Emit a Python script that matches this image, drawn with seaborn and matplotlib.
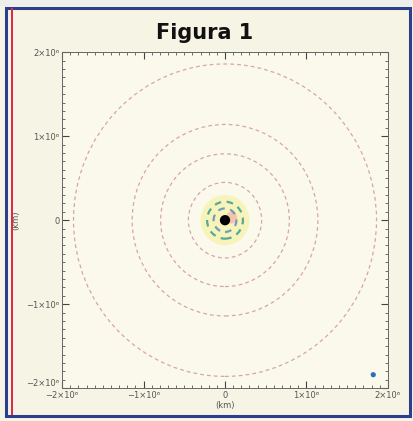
import numpy as np
import pandas as pd
import matplotlib
matplotlib.use("Agg")
import matplotlib.pyplot as plt
import seaborn as sns
from matplotlib.patches import Circle, Rectangle
from matplotlib.ticker import MultipleLocator

# orbit radii (units of 10^6 km)
outer_orbits = [1.86, 1.14, 0.79, 0.45]
inner_orbits = [0.22, 0.14]
inner_colors = ["#3f9a92", "#5b8fb8"]

# point markers: centre body and the lone blue dot
points = pd.DataFrame({
    "x": [0.0, 1.82],
    "y": [0.0, -1.84],
    "kind": ["centre", "dot"],
})

ticks = [-2, -1, 0, 1, 2]
tick_labels = ["\u22122\u00d710\u2076", "\u22121\u00d710\u2076", "0", "1\u00d710\u2076", "2\u00d710\u2076"]

sns.set_style("ticks")
plt.rcParams["font.family"] = ["DejaVu Sans"]

fig = plt.figure(figsize=(4.14, 4.21), dpi=100)
fig.patch.set_facecolor("#f6f4e4")

# scan frame
fig.patches.append(Rectangle((0, 0.985), 1, 0.015, transform=fig.transFigure,
                             facecolor="#eeeeea", edgecolor="none", zorder=0))
fig.patches.append(Rectangle((0.015, 0.012), 0.975, 0.97, transform=fig.transFigure,
                             facecolor="none", edgecolor="#2c3f8c", lw=2.2, zorder=1))
fig.patches.append(Rectangle((0.027, 0.015), 0.004, 0.965, transform=fig.transFigure,
                             facecolor="#e0284a", edgecolor="none", zorder=1))

ax = fig.add_axes([0.150, 0.078, 0.787, 0.798])
ax.set_facecolor("#fbf9ec")

# yellow glow around the centre
ax.add_patch(Circle((0, 0), 0.30, facecolor="#f4f08c", edgecolor="none", alpha=0.5, zorder=1))
ax.add_patch(Circle((0.08, 0.03), 0.07, facecolor="#f4b0a8", edgecolor="none", alpha=0.7, zorder=1))

for r in outer_orbits:
    ax.add_patch(Circle((0, 0), r, fill=False, edgecolor="#c06a86", lw=0.9,
                        linestyle=(0, (3, 2.5)), alpha=0.6, zorder=2))

for r, c in zip(inner_orbits, inner_colors):
    ax.add_patch(Circle((0, 0), r, fill=False, edgecolor=c, lw=1.6,
                        linestyle=(0, (3, 2.5)), alpha=0.85, zorder=3))

sns.scatterplot(data=points, x="x", y="y", hue="kind",
                palette={"centre": "black", "dot": "#2a6fb8"},
                size="kind", sizes={"centre": 55, "dot": 14},
                edgecolor="none", legend=False, ax=ax, zorder=4)

ax.set_xlim(-2, 2)
ax.set_ylim(-2, 2)
ax.set_xticks(ticks)
ax.set_yticks(ticks)
ax.set_xticklabels(tick_labels)
ax.set_yticklabels(tick_labels)
ax.get_yticklabels()[0].set_va("bottom")
ax.xaxis.set_minor_locator(MultipleLocator(0.1))
ax.yaxis.set_minor_locator(MultipleLocator(0.1))
ax.tick_params(which="major", direction="in", length=5, width=0.8, color="#444444",
               top=True, right=True, labelsize=6, labelcolor="#555555", pad=2)
ax.tick_params(which="minor", direction="in", length=2.5, width=0.6, color="#555555",
               top=True, right=True)
for s in ax.spines.values():
    s.set_color("#666666")
    s.set_linewidth(0.7)

ax.set_xlabel("(km)", fontsize=6, color="#555555", labelpad=1)
ax.set_ylabel("(km)", fontsize=6, color="#555555", labelpad=4)

fig.text(0.495, 0.922, "Figura 1", ha="center", va="center",
         fontsize=15, fontweight="bold", color="#111111")

fig.savefig("out.png", dpi=100, facecolor=fig.get_facecolor())
